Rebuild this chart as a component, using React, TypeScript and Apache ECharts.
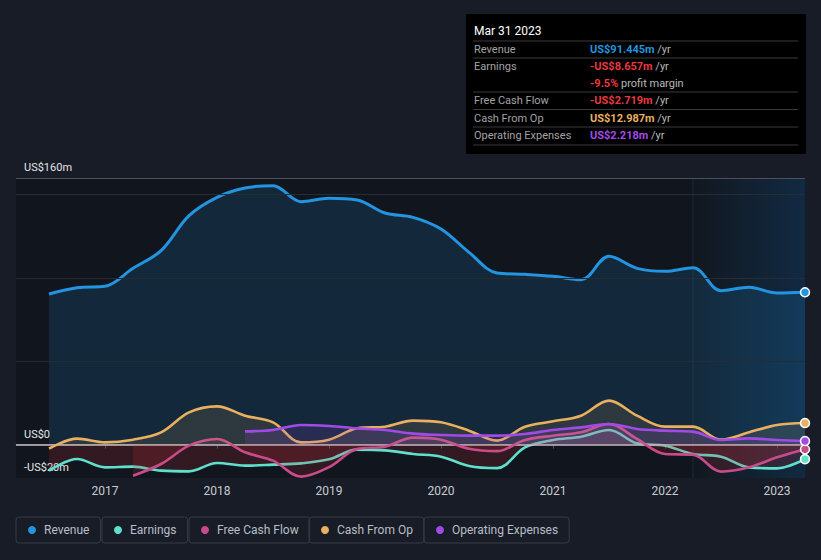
import React, { useEffect, useRef } from "react";
import * as echarts from "echarts";

// ---- data ----
const quarters = [
  2016.5, 2016.75, 2017.0, 2017.25, 2017.5, 2017.75, 2018.0, 2018.25, 2018.5, 2018.75,
  2019.0, 2019.25, 2019.5, 2019.75, 2020.0, 2020.25, 2020.5, 2020.75, 2021.0, 2021.25,
  2021.5, 2021.75, 2022.0, 2022.25, 2022.5, 2022.75, 2023.0, 2023.25,
];
const revenue = [
  90.4, 94.2, 95, 105.8, 116.4, 137.4, 148.4, 154, 155.4, 145.8,
  147.8, 146.8, 139, 136.4, 129.4, 115.4, 103, 102.2, 101, 99,
  113, 105.8, 104, 106.2, 92.4, 94.4, 91, 91.445,
];
const earnings = [
  -15.6, -8.6, -13.6, -13.2, -15.6, -16, -11, -12.6, -12, -11.2,
  -8.8, -3, -3.4, -5.6, -7.2, -12.8, -14.1, -1.6, 2.8, 4.8,
  8.8, 0.8, -0.6, -5.6, -7.2, -13.6, -14.2, -8.657,
];
const freeCashFlow = [
  null, null, null, -18.6, -11.6, -0.6, 3.4, -4.6, -9.6, -19.2,
  -13.5, -2.6, -1.2, 4.2, 3, -2.5, -3.9, 2.8, 5.4, 7.4,
  12.4, 3.4, -5.6, -6, -16.2, -13.6, -7.6, -2.719,
];
const cashFromOp = [
  -2.4, 3.6, 1.4, 3, 7.4, 19.4, 23, 17.4, 13.4, 1.4,
  3, 9.8, 10.8, 14.4, 13.4, 8.4, 2.4, 10.8, 14, 17.4,
  26.4, 17.4, 10.8, 10.8, 3, 7.4, 11.8, 12.987,
];
const operatingExpenses = [
  null, null, null, null, null, null, null, 8, 8.8, 11.8,
  11.2, 9.8, 8.8, 6.6, 5.8, 5.4, 5.4, 6.4, 8.8, 10.4,
  12.4, 9.4, 8.4, 7.8, 2.8, 3.8, 2.8, 2.218,
];
const seriesNames = ["Revenue", "Earnings", "Free Cash Flow", "Cash From Op", "Operating Expenses"];
const seriesColors = ["#2394df", "#5fe0cc", "#c84b8a", "#e8b060", "#a24ae8"];
const positiveFills = [
  "rgba(35,148,223,0.22)",
  "rgba(170,150,190,0.16)",
  "rgba(200,75,138,0.16)",
  "rgba(233,176,96,0.17)",
  "rgba(160,72,232,0.2)",
];
const negativeFill = "rgba(205,45,55,0.25)";
const yearTicks = [2017, 2018, 2019, 2020, 2021, 2022, 2023];
const yLabelValues = [-20, 0, 160];
const yLabelTexts = ["-US$20m", "US$0", "US$160m"];
const gridLineValues = [50, 100, 150];
const xMin = 2016.205;
const xMax = 2023.25;
const yMin = -20;
const yMax = 160;
const highlightStart = 2022.25;
const tooltipDate = "Mar 31 2023";

// legend box layout
const legendLefts = [16, 102, 189, 309, 424];

const allValues = [revenue, earnings, freeCashFlow, cashFromOp, operatingExpenses];

function fmt(v: number) {
  const s = "US$" + Math.abs(v).toFixed(3) + "m";
  return v < 0 ? "-" + s : s;
}

function buildSeries(zeroY: number | null, height: number) {
  return allValues.map((vals, si) => {
    const pts: any[] = [];
    vals.forEach((v, i) => {
      if (v === null) return;
      pts.push([quarters[i], v]);
    });
    const data = pts.map((p, i) =>
      i === pts.length - 1
        ? {
            value: p,
            symbol: "circle",
            symbolSize: 9,
            itemStyle: { color: seriesColors[si], borderColor: "#ffffff", borderWidth: 1.5 },
          }
        : { value: p, symbol: "none" }
    );
    let areaColor: any = positiveFills[si];
    if (zeroY !== null && si > 0) {
      const off = zeroY / height;
      areaColor = new echarts.graphic.LinearGradient(
        0,
        0,
        0,
        height,
        [
          { offset: 0, color: positiveFills[si] },
          { offset: off, color: positiveFills[si] },
          { offset: off, color: negativeFill },
          { offset: 1, color: negativeFill },
        ],
        true
      );
    }
    const s: any = {
      name: seriesNames[si],
      type: "line",
      data,
      smooth: 0.35,
      showSymbol: true,
      showAllSymbol: true,
      lineStyle: { color: seriesColors[si], width: si === 0 ? 3 : 2.6 },
      itemStyle: { color: seriesColors[si] },
      areaStyle: { color: areaColor, origin: 0 },
      emphasis: { disabled: true },
      z: 3 + si,
    };
    if (si === 0) {
      s.markLine = {
        silent: true,
        symbol: "none",
        label: { show: false },
        data: [
          ...gridLineValues.map((g) => ({ yAxis: g, lineStyle: { color: "#262c36", width: 1, type: "solid" } })),
          { yAxis: yMax, lineStyle: { color: "#4a515c", width: 1, type: "solid" } },
        ],
      };
    }
    if (si === allValues.length - 1) {
      s.markLine = {
        silent: true,
        symbol: "none",
        label: { show: false },
        data: [{ yAxis: 0, lineStyle: { color: "#c9bfc2", width: 1.5, type: "solid" } }],
      };
    }
    return s;
  });
}

function tooltipGraphic() {
  const last = quarters.length - 1;
  const rev = revenue[last];
  const earn = earnings[last];
  const fcf = freeCashFlow[last] as number;
  const cfo = cashFromOp[last];
  const opex = operatingExpenses[last] as number;
  const margin = (earn / rev) * 100;
  const valColor = (v: number, c: string) => (v < 0 ? "#e8383f" : c);
  const rows: any[] = [
    { label: "Revenue", value: fmt(rev), color: valColor(rev, seriesColors[0]), y: 35, unit: " /yr" },
    { label: "Earnings", value: fmt(earn), color: valColor(earn, seriesColors[1]), y: 52, unit: " /yr" },
    { label: "", value: margin.toFixed(1) + "%", color: valColor(margin, "#ffffff"), y: 69, unit: " profit margin" },
    { label: "Free Cash Flow", value: fmt(fcf), color: valColor(fcf, seriesColors[2]), y: 86.5, unit: " /yr" },
    { label: "Cash From Op", value: fmt(cfo), color: valColor(cfo, seriesColors[3]), y: 104, unit: " /yr" },
    { label: "Operating Expenses", value: fmt(opex), color: valColor(opex, seriesColors[4]), y: 121, unit: " /yr" },
  ];
  const lines = [27, 44, 78, 95.5, 113, 131];
  const children: any[] = [
    { type: "rect", shape: { x: 0, y: 0, width: 340, height: 140 }, style: { fill: "#000000" } },
    {
      type: "text",
      x: 8,
      y: 17,
      style: { text: tooltipDate, fill: "#ffffff", fontSize: 12, fontFamily: "Roboto", verticalAlign: "middle" },
    },
  ];
  lines.forEach((ly) =>
    children.push({
      type: "line",
      shape: { x1: 7, y1: ly, x2: 332, y2: ly },
      style: { stroke: "#3a3a3a", lineWidth: 1 },
    })
  );
  rows.forEach((r) => {
    if (r.label)
      children.push({
        type: "text",
        x: 8,
        y: r.y,
        style: { text: r.label, fill: "#a3a3a3", fontSize: 11, fontFamily: "Roboto", verticalAlign: "middle" },
      });
    children.push({
      type: "text",
      x: 124,
      y: r.y,
      style: {
        text: "{v|" + r.value + "}{u|" + r.unit + "}",
        fontFamily: "Roboto",
        verticalAlign: "middle",
        rich: {
          v: { fill: r.color, fontSize: 11, fontWeight: "bold", fontFamily: "Roboto" },
          u: { fill: "#b8b8b8", fontSize: 11, fontFamily: "Roboto" },
        },
      },
    });
  });
  return { type: "group", x: 466, y: 14, z: 100, children };
}

export default function App() {
  const ref = useRef<HTMLDivElement>(null);
  useEffect(() => {
    document.body.style.margin = "0";
    document.body.style.background = "#171c26";
    const el = ref.current!;
    const chart = echarts.init(el, undefined, { renderer: "svg" });
    const W = 821;
    const H = 560;
    const base: any = {
      animation: false,
      backgroundColor: "#171c26",
      textStyle: { fontFamily: "Roboto" },
      grid: { left: 16, right: 16, top: 178, bottom: 82, containLabel: false },
      legend: seriesNames.map((n, i) => ({
        data: [n],
        left: legendLefts[i],
        top: 517,
        orient: "horizontal",
        icon: "circle",
        itemWidth: 8,
        itemHeight: 8,
        padding: [7, 11, 7, 12],
        borderColor: "#363b46",
        borderWidth: 1,
        borderRadius: 3,
        selectedMode: false,
        textStyle: { color: "#b9bec7", fontSize: 12, fontFamily: "Roboto", padding: [0, 0, 0, 3] },
      })),
      xAxis: {
        type: "value",
        min: xMin,
        max: xMax,
        splitLine: { show: false },
        axisLine: { show: true, lineStyle: { color: "#3a404b", width: 1 } },
        axisTick: { show: true, customValues: yearTicks, length: 4, lineStyle: { color: "#4a505b" } },
        axisLabel: {
          customValues: yearTicks,
          color: "#c9ccd2",
          fontSize: 12,
          fontFamily: "Roboto",
          margin: 7,
          formatter: (v: number) => String(Math.round(v)),
        },
      },
      yAxis: {
        type: "value",
        min: yMin,
        max: yMax,
        splitLine: { show: false },
        axisLine: { show: false },
        axisTick: { show: false },
        axisLabel: {
          inside: true,
          customValues: yLabelValues,
          margin: 8,
          color: "#e4e6ea",
          fontSize: 11,
          fontFamily: "Roboto",
          verticalAlign: "bottom",
          padding: [0, 0, 5, 0],
          formatter: (v: number) => {
            const i = yLabelValues.indexOf(Math.round(v));
            return i >= 0 ? yLabelTexts[i] : "";
          },
        },
      },
      series: buildSeries(null, H),
    };
    chart.setOption(base);
    const px = (x: number) => chart.convertToPixel({ xAxisIndex: 0 }, x) as number;
    const py = (y: number) => chart.convertToPixel({ yAxisIndex: 0 }, y) as number;
    const x0 = px(xMin);
    const xh = px(highlightStart);
    const x1 = px(xMax);
    const yT = py(yMax);
    const yB = py(yMin);
    const yZ = py(0);
    chart.setOption({
      series: buildSeries(yZ, H),
      graphic: [
        {
          type: "rect",
          z: 0,
          silent: true,
          shape: { x: x0, y: yT, width: xh - x0, height: yB - yT },
          style: { fill: "#11151d" },
        },
        {
          type: "rect",
          z: 0,
          silent: true,
          shape: { x: xh, y: yT, width: x1 - xh, height: yB - yT },
          style: {
            fill: new echarts.graphic.LinearGradient(0, 0, 1, 0, [
              { offset: 0, color: "#12171f" },
              { offset: 1, color: "#112a42" },
            ]),
          },
        },
        {
          type: "line",
          z: 0,
          silent: true,
          shape: { x1: xh, y1: yT, x2: xh, y2: yB },
          style: { stroke: "#1c2936", lineWidth: 1 },
        },
        tooltipGraphic(),
      ],
    });
    return () => chart.dispose();
  }, []);
  return <div ref={ref} style={{ position: "fixed", left: 0, top: 0, width: 821, height: 560 }} />;
}
